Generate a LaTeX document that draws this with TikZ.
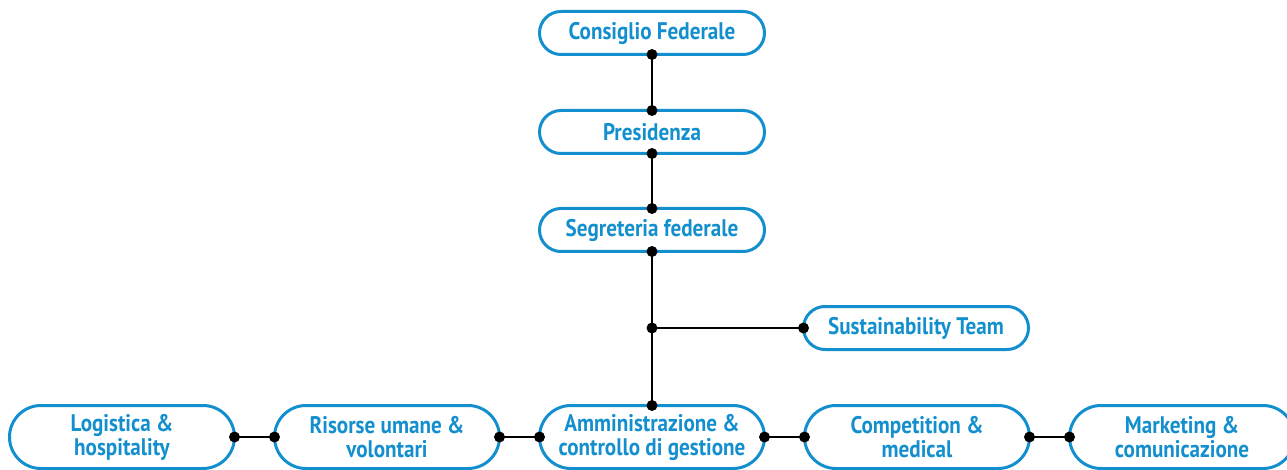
\documentclass[tikz,border=0pt]{standalone}
\usepackage{fontspec}
\setmainfont{PT Sans}[FakeStretch=0.88]
\usetikzlibrary{shapes.misc}
\definecolor{fedblue}{HTML}{138FCE}

\begin{document}
\begin{tikzpicture}[x=1pt,y=1pt]
\tikzstyle{every node}+=[inner sep=0pt, outer sep=0pt]
\tikzstyle{unit}=[draw=fedblue, line width=3pt, rounded rectangle, minimum width=225pt, minimum height=43pt, text=fedblue, font=\fontsize{24}{24}\selectfont\bfseries, align=center]
\tikzstyle{unittall}=[unit, minimum height=63pt]
\tikzstyle{link}=[black, line width=2.8pt]
\useasboundingbox (0,0) rectangle (1287,-470);
% central column
\node [unit] (consiglio) at (652,-33) {Consiglio Federale};
\node [unit] (presidenza) at (652,-132) {Presidenza};
\node [unit] (segreteria) at (652,-230) {Segreteria federale};
\node [unit] (sustain) at (916,-328) {Sustainability Team};
\coordinate (split) at (652,-328);
% bottom row
\node [unittall] (logistica) at (122,-437) {Logistica \&\\hospitality};
\node [unittall] (risorse) at (387,-437) {Risorse umane \&\\volontari};
\node [unittall] (amministrazione) at (652,-437) {Amministrazione \&\\controllo di gestione};
\node [unittall] (competition) at (917,-437) {Competition \&\\medical};
\node [unittall] (marketing) at (1182,-437) {Marketing \&\\comunicazione};
% connectors
\draw [link] (consiglio.south) -- (presidenza.north);
\draw [link] (presidenza.south) -- (segreteria.north);
\draw [link] (segreteria.south) -- (split) -- (amministrazione.north);
\draw [link] (split) -- (sustain.west);
\draw [link] (logistica.east) -- (risorse.west);
\draw [link] (risorse.east) -- (amministrazione.west);
\draw [link] (amministrazione.east) -- (competition.west);
\draw [link] (competition.east) -- (marketing.west);
% dots
\foreach \p in {consiglio.south, presidenza.north, presidenza.south, segreteria.north, segreteria.south, split, sustain.west, amministrazione.north, logistica.east, risorse.west, risorse.east, amministrazione.west, amministrazione.east, competition.west, competition.east, marketing.west}
  \fill [black] (\p) circle (5.5);
\end{tikzpicture}
\end{document}
